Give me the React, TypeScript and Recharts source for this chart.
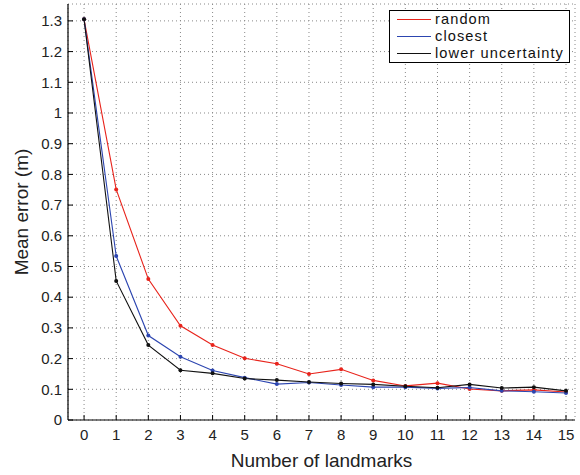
import { CartesianGrid, Legend, Line, LineChart, XAxis, YAxis } from 'recharts'

const landmarks = [0, 1, 2, 3, 4, 5, 6, 7, 8, 9, 10, 11, 12, 13, 14, 15]
const randomErr = [1.305, 0.751, 0.459, 0.307, 0.244, 0.201, 0.183, 0.15, 0.165, 0.129, 0.111, 0.12, 0.101, 0.095, 0.098, 0.091]
const closestErr = [1.305, 0.534, 0.275, 0.206, 0.161, 0.138, 0.117, 0.122, 0.114, 0.107, 0.107, 0.103, 0.106, 0.095, 0.092, 0.088]
const lowerErr = [1.305, 0.453, 0.244, 0.162, 0.152, 0.135, 0.13, 0.124, 0.119, 0.116, 0.11, 0.105, 0.116, 0.104, 0.107, 0.095]
const yTicks = [0, 0.1, 0.2, 0.3, 0.4, 0.5, 0.6, 0.7, 0.8, 0.9, 1, 1.1, 1.2, 1.3]
const seriesNames = ['random', 'closest', 'lower uncertainty']
const seriesKeys = ['random', 'closest', 'lower']
const seriesColors = ['#e8231b', '#2c45b0', '#111111']

const rows = landmarks.map((n, i) => ({
  n,
  random: randomErr[i],
  closest: closestErr[i],
  lower: lowerErr[i],
}))

const FONT = '"Liberation Sans", Arial, Helvetica, sans-serif'

// MATLAB style: ticks point inward, labels outside
function BottomTick({ x, y, payload }: any) {
  return (
    <g>
      <line x1={x} x2={x} y1={y} y2={y - 5} stroke="#000" />
      <text x={x} y={y + 20} textAnchor="middle" fontSize={15} fontFamily={FONT} fill="#222">
        {payload.value}
      </text>
    </g>
  )
}

function LeftTick({ x, y, payload }: any) {
  return (
    <g>
      <line x1={x} x2={x + 5} y1={y} y2={y} stroke="#000" />
      <text x={x - 6} y={y} dy="0.35em" textAnchor="end" fontSize={15} fontFamily={FONT} fill="#222">
        {payload.value}
      </text>
    </g>
  )
}

function TopTick({ x, y }: any) {
  return <line x1={x} x2={x} y1={y} y2={y + 5} stroke="#000" />
}

function RightTick({ x, y }: any) {
  return <line x1={x - 5} x2={x} y1={y} y2={y} stroke="#000" />
}

function XLabel({ viewBox }: any) {
  return (
    <text x={viewBox.x + viewBox.width / 2} y={viewBox.y + 47} textAnchor="middle" fontSize={19} fontFamily={FONT} fill="#222">
      Number of landmarks
    </text>
  )
}

function YLabel({ viewBox }: any) {
  const cx = 28
  const cy = viewBox.y + viewBox.height / 2
  return (
    <text x={cx} y={cy} transform={`rotate(-90 ${cx} ${cy})`} textAnchor="middle" fontSize={19} fontFamily={FONT} fill="#222">
      Mean error (m)
    </text>
  )
}

function LegendBox() {
  return (
    <div style={{ border: '1px solid #000', background: '#fff', width: 179, height: 51, fontFamily: FONT, boxSizing: 'content-box' }}>
      {seriesNames.map((name, i) => (
        <div key={name} style={{ display: 'flex', alignItems: 'center', height: 17 }}>
          <div style={{ marginLeft: 7, width: 34, height: 1, background: seriesColors[i] }} />
          <span style={{ marginLeft: 4, fontSize: 14.6, lineHeight: '17px', letterSpacing: 1.1, color: '#111', whiteSpace: 'nowrap' }}>{name}</span>
        </div>
      ))}
    </div>
  )
}

export default function App() {
  return (
    <div style={{ position: 'absolute', left: 0, top: 0, width: 580, height: 475, background: '#fff' }}>
      <LineChart width={580} height={475} data={rows} margin={{ top: 4, right: 5, bottom: 0, left: 0 }}>
        <CartesianGrid stroke="#888" strokeDasharray="1 3" />
        <XAxis
          dataKey="n"
          type="number"
          domain={[-0.5, 15.28]}
          allowDataOverflow
          ticks={landmarks}
          height={55}
          tickSize={0}
          tickMargin={0}
          tickLine={false}
          tick={<BottomTick />}
          axisLine={{ stroke: '#000', strokeWidth: 1.2 }}
          interval={0}
          label={<XLabel />}
        />
        <XAxis
          xAxisId="top"
          dataKey="n"
          type="number"
          orientation="top"
          domain={[-0.5, 15.28]}
          allowDataOverflow
          ticks={landmarks}
          height={0}
          tickSize={0}
          tickMargin={0}
          tickLine={false}
          tick={<TopTick />}
          axisLine={{ stroke: '#000', strokeWidth: 1.2 }}
          interval={0}
        />
        <YAxis
          type="number"
          domain={[0, 1.355]}
          allowDataOverflow
          ticks={yTicks}
          width={68}
          tickSize={0}
          tickMargin={0}
          tickLine={false}
          tick={<LeftTick />}
          axisLine={{ stroke: '#000', strokeWidth: 1.2 }}
          interval={0}
          label={<YLabel />}
        />
        <YAxis
          yAxisId="right"
          orientation="right"
          type="number"
          domain={[0, 1.355]}
          allowDataOverflow
          ticks={yTicks}
          width={0}
          tickSize={0}
          tickMargin={0}
          tickLine={false}
          tick={<RightTick />}
          axisLine={{ stroke: '#000', strokeWidth: 1.2 }}
          interval={0}
        />
        <Legend
          layout="vertical"
          align="center"
          verticalAlign="middle"
          wrapperStyle={{ left: 389, top: 10, width: 181, height: 53 }}
          content={<LegendBox />}
        />
        {seriesKeys.map((k, i) => (
          <Line
            key={k}
            dataKey={k}
            name={seriesNames[i]}
            type="linear"
            stroke={seriesColors[i]}
            strokeWidth={1.1}
            dot={{ r: 2, fill: seriesColors[i], stroke: 'none' }}
            activeDot={false}
            isAnimationActive={false}
          />
        ))}
      </LineChart>
    </div>
  )
}
